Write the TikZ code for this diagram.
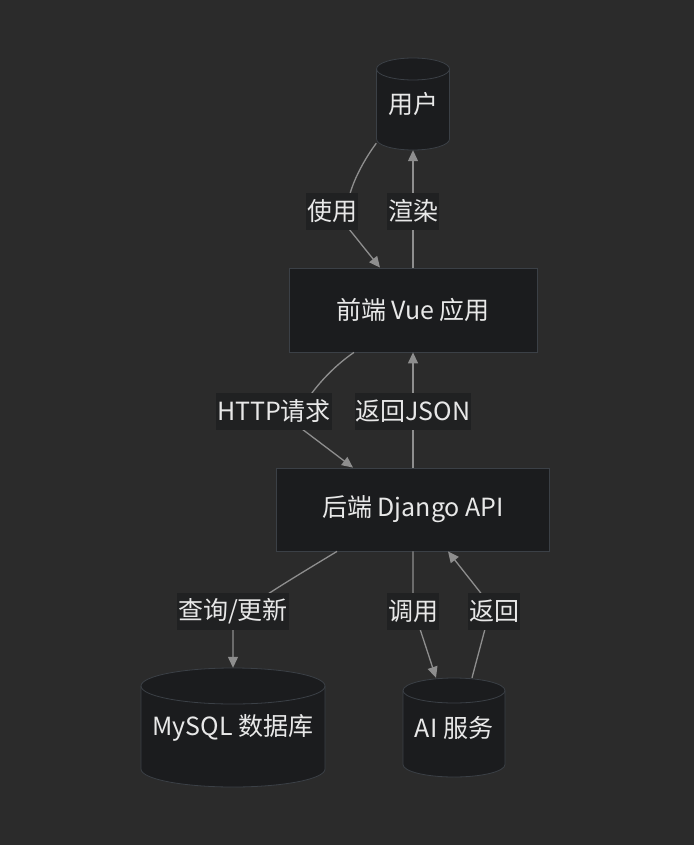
\documentclass[tikz,border=0pt]{standalone}
\usepackage{fontspec}
\setmainfont{Noto Sans CJK SC}
\usetikzlibrary{arrows.meta}
\definecolor{canvas}{HTML}{2B2B2B}
\definecolor{boxfill}{HTML}{1B1C1E}
\definecolor{rim}{HTML}{3B4046}
\definecolor{lblfill}{HTML}{202122}
\definecolor{wirecol}{HTML}{8E8E8E}
\definecolor{ink}{HTML}{E8E8E8}
\tikzset{
  txt/.style={text=ink, font=\fontsize{25}{30}\selectfont},
  box/.style={txt, draw=rim, fill=boxfill, line width=0.8pt, inner sep=0pt},
  lbl/.style={txt, fill=lblfill, inner xsep=1pt, inner ysep=0pt, minimum height=37pt},
  wire/.style={draw=wirecol, line width=1.3pt},
  arrowed/.style={-{Triangle[length=11pt,width=10pt]}},
  drumbody/.style={draw=rim, fill=boxfill, line width=0.8pt},
}
% name, cx, cy, half width, half height, ry, text
\newcommand\drum[7]{%
  \filldraw[drumbody] (#2-#4,#3-#5+#6) -- (#2-#4,#3+#5-#6)
    arc[start angle=180,end angle=360,x radius=#4pt,y radius=#6pt]
    -- (#2+#4,#3-#5+#6)
    arc[start angle=0,end angle=180,x radius=#4pt,y radius=#6pt] -- cycle;
  \draw[drumbody,fill=none] (#2-#4,#3-#5+#6)
    arc[start angle=180,end angle=360,x radius=#4pt,y radius=#6pt];
  \node[txt, inner sep=0pt, minimum width=2*#4pt, minimum height=2*#5pt] (#1) at (#2,#3) {#7};
}
\begin{document}
\begin{tikzpicture}[x=1pt,y=-1pt]
\fill[canvas] (0,0) rectangle (694,845);
\useasboundingbox (0,0) rectangle (694,845);

\drum{user}{413}{104}{36.5}{46}{11}{用户}
\node[box, minimum width=248pt, minimum height=84pt] (front) at (413,310) {前端 Vue 应用};
\node[box, minimum width=273pt, minimum height=83pt] (back) at (413,509.5) {后端 Django API};
\drum{db}{233}{727.5}{92}{59.5}{18}{MySQL 数据库}
\drum{ai}{454}{727.5}{51}{49.5}{12.5}{AI 服务}

\draw[wire,arrowed] ([yshift=7pt]user.south west) .. controls (358,168) and (340,205) .. (349,229)
  -- ([xshift=-33pt]front.north) node[lbl] at (332,211) {使用};
\draw[wire,arrowed] (front.north) -- (user.south) node[lbl] at (413,211) {渲染};

\draw[wire,arrowed] ([xshift=-59pt]front.south) .. controls (322,374) and (288,418) .. (302,429)
  -- ([xshift=-60pt]back.north) node[lbl] at (274,411) {HTTP请求};
\draw[wire,arrowed] (back.north) -- (front.south) node[lbl] at (413,411) {返回JSON};

\draw[wire,arrowed] ([xshift=-76pt]back.south) .. controls (250,604) and (233,615) .. (233,629)
  -- (db.north) node[lbl] at (233,611) {查询/更新};
\draw[wire,arrowed] (back.south) -- (413,592) .. controls (413,612) and (416,618) .. (420,629)
  -- ([xshift=-18pt]ai.north) node[lbl] at (413,611) {调用};
\draw[wire,arrowed] ([xshift=18pt]ai.north) -- (485,629) .. controls (490,610) and (488,602) .. (480,592)
  -- ([xshift=35pt]back.south) node[lbl] at (494,611) {返回};
\end{tikzpicture}
\end{document}
